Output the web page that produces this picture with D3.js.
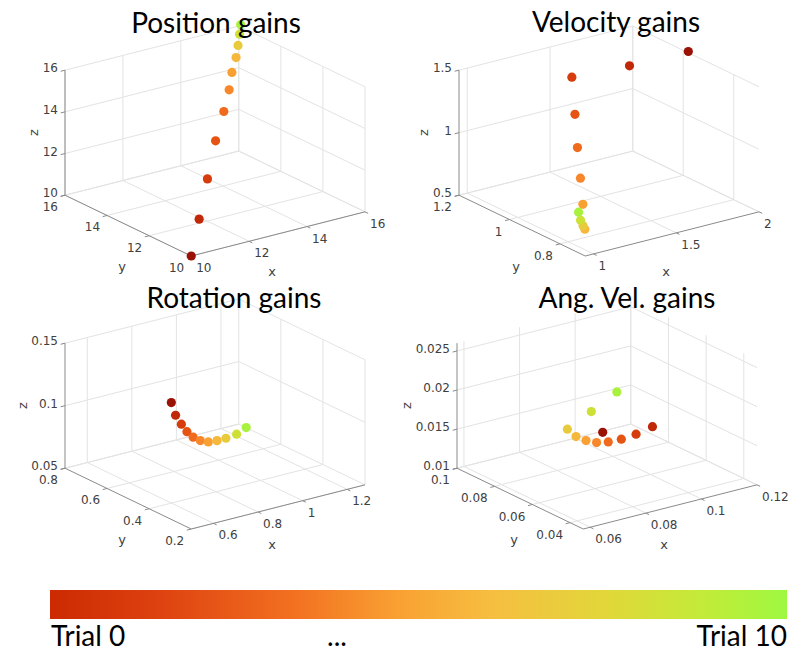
<!DOCTYPE html>
<html>
<head>
<meta charset="utf-8">
<script src="https://cdn.jsdelivr.net/npm/d3@7"></script>
<style>
  body { margin: 0; background: #fff; }
  svg text { fill: #404040; }
</style>
</head>
<body>
<script>
// ---- data (11 trials each) ----
const trialColors = ["#9a1205", "#c02808", "#d63c0c", "#e65414", "#f06a1e", "#f7872a",
                     "#f9a032", "#f6b83c", "#e8cb3c", "#cce036", "#a8f23e"];

const posX = [10, 10.97, 12.02, 13.02, 13.85, 14.44, 14.87, 15.29, 15.59, 15.86, 16.08];
const posY = [10, 10.96, 12.01, 13.0, 13.75, 14.31, 14.77, 15.15, 15.47, 15.77, 16.02];
const posZ = [10, 10.96, 12.01, 13.0, 13.75, 14.31, 14.77, 15.15, 15.47, 15.77, 16.02];

const velX = [2.0, 1.66, 1.339, 1.19, 1.173, 1.159, 1.16, 1.117, 1.129, 1.143, 1.16];
const velY = [0.98, 0.99, 1.008, 0.898, 0.877, 0.856, 0.847, 0.811, 0.826, 0.845, 0.864];
const velZ = [1.51, 1.5, 1.5, 1.36, 1.12, 0.90, 0.70, 0.55, 0.56, 0.58, 0.62];

const rotX = [0.694, 0.713, 0.739, 0.764, 0.792, 0.824, 0.86, 0.899, 0.939, 0.987, 1.03];
const rotY = [0.5, 0.5, 0.5, 0.5, 0.5, 0.5, 0.5, 0.5, 0.5, 0.5, 0.5];
const rotZ = [0.118, 0.107, 0.0987, 0.0916, 0.0859, 0.0817, 0.079, 0.0783, 0.0784, 0.0795, 0.0828];

const angX = [0.0872, 0.1051, 0.0992, 0.0939, 0.0892, 0.085, 0.0812, 0.0776, 0.0745, 0.0831, 0.0923];
const angY = [0.0665, 0.0665, 0.0665, 0.0665, 0.0665, 0.0665, 0.0665, 0.0665, 0.0665, 0.0665, 0.0665];
const angZ = [0.0158, 0.0149, 0.01447, 0.01431, 0.01439, 0.01468, 0.01528, 0.01612, 0.01735, 0.01882, 0.0205];

// tick values
const posTicks = [10, 12, 14, 16];
const velXTicks = [1, 1.5, 2], velYTicks = [0.8, 1, 1.2], velZTicks = [0.5, 1, 1.5];
const rotXTicks = [0.6, 0.8, 1, 1.2], rotYTicks = [0.2, 0.4, 0.6, 0.8], rotZTicks = [0.05, 0.1, 0.15];
const angXTicks = [0.06, 0.08, 0.1, 0.12], angYTicks = [0.04, 0.06, 0.08, 0.1],
      angZTicks = [0.01, 0.015, 0.02, 0.025];

// colorbar
const barStops = [0, 0.15, 0.33, 0.47, 0.6, 0.75, 0.88, 1];
const barColors = ["#cc2a02", "#de4210", "#f27020", "#f9a032", "#f6be40", "#e2d63a", "#c4ea38", "#9ef840"];
const barLabels = ["Trial 0", "...", "Trial 10"];

const panels = [
  { title: "Position gains", xs: posX, ys: posY, zs: posZ,
    xlim: [10, 16], ylim: [10, 16], zlim: [10, 16],
    xt: posTicks, yt: posTicks, zt: posTicks,
    left: 65, bottom: 256, tx: 216, ty: 33 },
  { title: "Velocity gains", xs: velX, ys: velY, zs: velZ,
    xlim: [0.95, 2], ylim: [0.7, 1.2], zlim: [0.5, 1.5],
    xt: velXTicks, yt: velYTicks, zt: velZTicks,
    left: 459, bottom: 256, tx: 616, ty: 32 },
  { title: "Rotation gains", xs: rotX, ys: rotY, zs: rotZ,
    xlim: [0.5, 1.28], ylim: [0.2, 0.8], zlim: [0.05, 0.15],
    xt: rotXTicks, yt: rotYTicks, zt: rotZTicks,
    left: 65, bottom: 529, tx: 234, ty: 308 },
  { title: "Ang. Vel. gains", xs: angX, ys: angY, zs: angZ,
    xlim: [0.0575, 0.12], ylim: [0.033, 0.1], zlim: [0.01, 0.026],
    xt: angXTicks, yt: angYTicks, zt: angZTicks,
    left: 457, bottom: 529, tx: 627, ty: 308 }
];

const W = 789, H = 653;
const boxW = 300, boxH = 230;
const rad = Math.PI / 180;
const az = -36, el = 31;
const ca = Math.cos(az * rad), sa = -Math.sin(az * rad);
const cE = Math.cos(el * rad), sE = Math.sin(el * rad);
const fmt = d3.format("~g");

const svg = d3.select("body").append("svg").attr("width", W).attr("height", H);

function makeProj(p) {
  const su = d3.scaleLinear().domain(p.xlim).range([0, 1]),
        sv = d3.scaleLinear().domain(p.ylim).range([0, 1]),
        sw = d3.scaleLinear().domain(p.zlim).range([0, 1]),
        sh = d3.scaleLinear().domain([-sa, ca]).range([p.left, p.left + boxW]),
        sup = d3.scaleLinear().domain([0, sE * (sa + ca) + cE]).range([p.bottom, p.bottom - boxH]);
  return function(x, y, z) {
    const u = su(x), v = sv(y), w = sw(z);
    return [sh(ca * u - sa * v), sup(sE * (sa * u + ca * v) + cE * w)];
  };
}

const line = d3.line();

function drawPanel(p) {
  const proj = makeProj(p),
        g = svg.append("g"),
        [x0, x1] = p.xlim, [y0, y1] = p.ylim, [z0, z1] = p.zlim;

  // grid on the three back planes
  const grid = [];
  p.xt.forEach(t => {
    grid.push([proj(t, y0, z0), proj(t, y1, z0)]);
    grid.push([proj(t, y1, z0), proj(t, y1, z1)]);
  });
  p.yt.forEach(t => {
    grid.push([proj(x0, t, z0), proj(x1, t, z0)]);
    grid.push([proj(x1, t, z0), proj(x1, t, z1)]);
  });
  p.zt.forEach(t => {
    grid.push([proj(x0, y1, t), proj(x1, y1, t)]);
    grid.push([proj(x1, y0, t), proj(x1, y1, t)]);
  });
  g.selectAll(".grid").data(grid).enter().append("path")
    .attr("d", line).attr("fill", "none")
    .attr("stroke", "#e3e3e3").attr("stroke-width", 1);

  // axis lines
  const axes = [
    [proj(x0, y0, z0), proj(x1, y0, z0)],
    [proj(x0, y0, z0), proj(x0, y1, z0)],
    [proj(x0, y1, z0), proj(x0, y1, z1)]
  ];
  g.selectAll(".ax").data(axes).enter().append("path")
    .attr("d", line).attr("fill", "none")
    .attr("stroke", "#8a8a8a").attr("stroke-width", 1);

  const dx = x1 - x0, dy = y1 - y0;
  const tickFont = "12px 'DejaVu Sans'";

  // x ticks
  p.xt.forEach(t => {
    const a = proj(t, y0, z0), b = proj(t, y0 - 0.025 * dy, z0);
    g.append("path").attr("d", line([a, b])).attr("stroke", "#8a8a8a");
    g.append("text").attr("x", a[0] + 5).attr("y", a[1] + 12)
      .attr("dominant-baseline", "central").style("font", tickFont)
      .text(fmt(t));
  });
  // y ticks
  p.yt.forEach(t => {
    const a = proj(x0, t, z0), b = proj(x0 - 0.025 * dx, t, z0);
    g.append("path").attr("d", line([a, b])).attr("stroke", "#8a8a8a");
    g.append("text").attr("x", a[0] - 7).attr("y", a[1] + 12)
      .attr("text-anchor", "end").attr("dominant-baseline", "central")
      .style("font", tickFont).text(fmt(t));
  });
  // z ticks
  let maxW = 0;
  p.zt.forEach(t => {
    const a = proj(x0, y1, t), b = proj(x0 - 0.025 * dx, y1, t);
    g.append("path").attr("d", line([a, b])).attr("stroke", "#8a8a8a");
    const tx = g.append("text").attr("x", a[0] - 7).attr("y", a[1] - 2)
      .attr("text-anchor", "end").attr("dominant-baseline", "central")
      .style("font", tickFont).text(fmt(t));
    maxW = Math.max(maxW, tx.node().getComputedTextLength());
  });

  // axis labels
  const xm = proj((x0 + x1) / 2, y0, z0),
        ym = proj(x0, (y0 + y1) / 2, z0),
        zb = proj(x0, y1, z0), ztop = proj(x0, y1, z1);
  g.append("text").attr("x", xm[0] - 6).attr("y", xm[1] + 38)
    .attr("text-anchor", "middle").attr("dominant-baseline", "central")
    .style("font", "13px 'DejaVu Sans'").text("x");
  g.append("text").attr("x", ym[0] - 6).attr("y", ym[1] + 41)
    .attr("text-anchor", "middle").attr("dominant-baseline", "central")
    .style("font", "13px 'DejaVu Sans'").text("y");
  const zx = zb[0] - 7 - maxW - 9, zy = (zb[1] + ztop[1]) / 2;
  g.append("text").attr("transform", `translate(${zx},${zy}) rotate(-90)`)
    .attr("text-anchor", "middle").attr("dominant-baseline", "central")
    .style("font", "13px 'DejaVu Sans'").text("z");

  // points
  const pts = p.xs.map((x, i) => ({ i: i, pos: proj(x, p.ys[i], p.zs[i]) }));
  g.selectAll(".pt").data(pts).enter().append("circle")
    .attr("cx", d => d.pos[0]).attr("cy", d => d.pos[1])
    .attr("r", 4.6).attr("fill", d => trialColors[d.i]);

  // title
  svg.append("text").attr("x", p.tx).attr("y", p.ty)
    .attr("text-anchor", "middle")
    .style("font", "28px Lato").style("fill", "#000")
    .text(p.title);
}

panels.forEach(drawPanel);

// colour bar
const grad = svg.append("defs").append("linearGradient").attr("id", "trialGrad");
grad.selectAll("stop").data(barStops).enter().append("stop")
  .attr("offset", d => d * 100 + "%")
  .attr("stop-color", (d, i) => barColors[i]);

const barX = d3.scaleLinear().domain([0, 1]).range([50, 787]);
svg.append("rect").attr("x", barX(0)).attr("y", 590)
  .attr("width", barX(1) - barX(0)).attr("height", 29)
  .attr("fill", "url(#trialGrad)");

svg.selectAll(".blab").data(barLabels).enter().append("text")
  .attr("x", (d, i) => [barX(0) + 1, 337, barX(1)][i])
  .attr("y", 646)
  .attr("text-anchor", (d, i) => ["start", "middle", "end"][i])
  .style("font", "28px Lato").style("fill", "#000")
  .text(d => d);
</script>
</body>
</html>
